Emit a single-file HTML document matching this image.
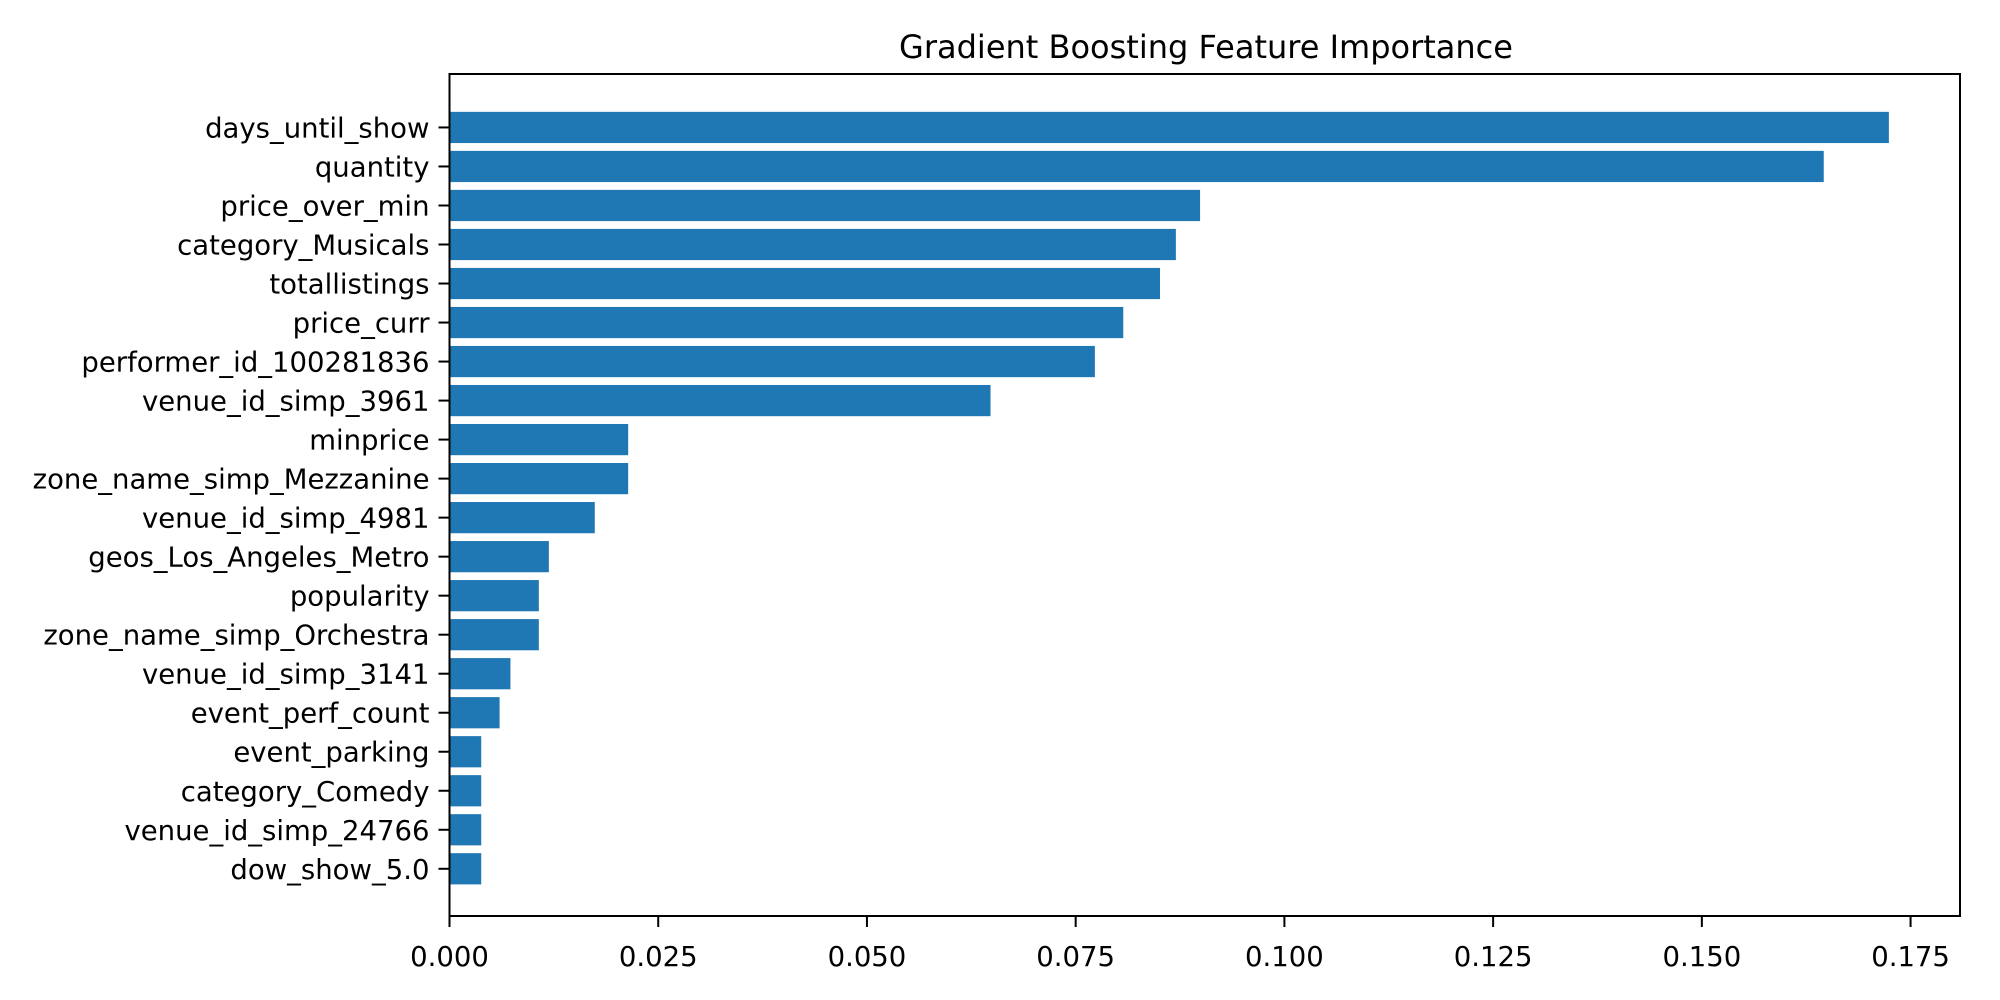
<!DOCTYPE html>
<html><head><meta charset="utf-8"><style>
html,body{margin:0;padding:0;background:#fff;}
svg{display:block;font-family:"DejaVu Sans","Liberation Sans",sans-serif;}
</style></head><body>
<svg id="chart" width="2000" height="1000" viewBox="0 0 2000 1000">
<text x="1206" y="58" font-size="32" text-anchor="middle" fill="#000">Gradient Boosting Feature Importance</text>
<g id="bars"></g>
<g id="yticks"></g>
<g id="xticks"></g>
<rect x="449.5" y="74" width="1510.5" height="842" fill="none" stroke="#000" stroke-width="2"/>
</svg>
<script>
const categories = ["days_until_show","quantity","price_over_min","category_Musicals","totallistings","price_curr","performer_id_100281836","venue_id_simp_3961","minprice","zone_name_simp_Mezzanine","venue_id_simp_4981","geos_Los_Angeles_Metro","popularity","zone_name_simp_Orchestra","venue_id_simp_3141","event_perf_count","event_parking","category_Comedy","venue_id_simp_24766","dow_show_5.0"];
const values = [0.1724,0.1646,0.0899,0.0870,0.0851,0.0807,0.0773,0.0648,0.0214,0.0214,0.0174,0.0119,0.0107,0.0107,0.0073,0.0060,0.0038,0.0038,0.0038,0.0038];
const xTickValues = [0,0.025,0.05,0.075,0.1,0.125,0.15,0.175];
const xTickLabels = ["0.000","0.025","0.050","0.075","0.100","0.125","0.150","0.175"];

const NS="http://www.w3.org/2000/svg";
const x0=449.5, pxPerUnit=8349;
const xs=v=>x0+v*pxPerUnit;
const yTop=74, yBot=916, n=categories.length;
const yMin=-1.37, yMax=(n-1)+1.21;
const ys=i=>yTop+(i-yMin)/(yMax-yMin)*(yBot-yTop);
const step=(yBot-yTop)/(yMax-yMin);
const bh=0.8*step;
const gb=document.getElementById('bars'), gy=document.getElementById('yticks'), gx=document.getElementById('xticks');
categories.forEach((c,i)=>{
  const r=document.createElementNS(NS,'rect');
  r.setAttribute('x',x0);r.setAttribute('y',ys(i)-bh/2);
  r.setAttribute('width',xs(values[i])-x0);r.setAttribute('height',bh);
  r.setAttribute('fill','#1f77b4');
  
  
  gb.appendChild(r);
  const t=document.createElementNS(NS,'line');
  t.setAttribute('x1',x0-11);t.setAttribute('x2',x0);t.setAttribute('y1',ys(i));t.setAttribute('y2',ys(i));
  t.setAttribute('stroke','#000');t.setAttribute('stroke-width','2');
  
  
  gy.appendChild(t);
  const l=document.createElementNS(NS,'text');
  l.setAttribute('x',x0-20);l.setAttribute('y',ys(i)+10);
  l.setAttribute('text-anchor','end');l.setAttribute('font-size','27.5');
  l.textContent=c;
  
  
  gy.appendChild(l);
});
xTickValues.forEach((v,i)=>{
  const t=document.createElementNS(NS,'line');
  t.setAttribute('x1',xs(v));t.setAttribute('x2',xs(v));t.setAttribute('y1',yBot);t.setAttribute('y2',yBot+11);
  t.setAttribute('stroke','#000');t.setAttribute('stroke-width','2');
  
  
  gx.appendChild(t);
  const l=document.createElementNS(NS,'text');
  l.setAttribute('x',xs(v));l.setAttribute('y',966);
  l.setAttribute('text-anchor','middle');l.setAttribute('font-size','27.5');
  l.textContent=xTickLabels[i];
  
  
  gx.appendChild(l);
});
</script>
</body></html>
